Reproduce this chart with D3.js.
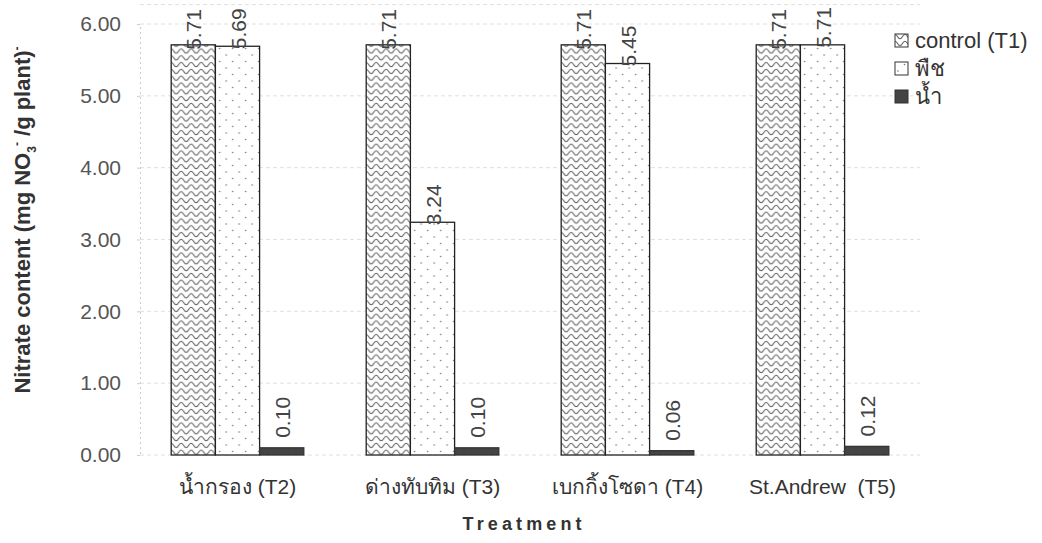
<!DOCTYPE html>
<html>
<head>
<meta charset="utf-8">
<script src="https://cdn.jsdelivr.net/npm/d3@7"></script>
<style>
  html, body { margin: 0; padding: 0; background: #fff; }
  svg { display: block; font-family: "Liberation Sans", Arial, "Noto Sans", sans-serif; }
  text { white-space: pre; }
</style>
</head>
<body>
<svg id="chart" width="1042" height="543"></svg>
<script>
// Nitrate content per treatment (mg NO3- / g plant)
const categories = ["น้ำกรอง (T2)", "ด่างทับทิม (T3)", "เบกกิ้งโซดา (T4)", "St.Andrew  (T5)"];
const seriesNames = ["control (T1)", "พืช", "น้ำ"];
const controlValues = [5.71, 5.71, 5.71, 5.71];
const plantValues = [5.69, 3.24, 5.45, 5.71];
const waterValues = [0.10, 0.10, 0.06, 0.12];
const yTicks = [0, 1, 2, 3, 4, 5, 6];

const seriesValues = [controlValues, plantValues, waterValues];
const rows = categories.map((c, i) => ({
  category: c,
  values: seriesNames.map((s, k) => ({ series: s, key: k, value: seriesValues[k][i] }))
}));

const svg = d3.select("#chart");
const defs = svg.append("defs");

// wavy hatch for the control series
const wave = defs.append("pattern")
  .attr("id", "wave").attr("patternUnits", "userSpaceOnUse")
  .attr("width", 10).attr("height", 6.8);
wave.append("rect").attr("width", 10).attr("height", 6.8).attr("fill", "#fff");
wave.append("path")
  .attr("d", "M0,1.2 Q1.2,1.2 2.5,3.4 Q3.8,5.6 5,5.6 Q6.2,5.6 7.5,3.4 Q8.8,1.2 10,1.2")
  .attr("fill", "none").attr("stroke", "#555").attr("stroke-width", 1);

// sparse dots for the plant series
const dots = defs.append("pattern")
  .attr("id", "dots").attr("patternUnits", "userSpaceOnUse")
  .attr("width", 13).attr("height", 13);
dots.append("rect").attr("width", 13).attr("height", 13).attr("fill", "#fff");
dots.append("circle").attr("cx", 3).attr("cy", 3).attr("r", 0.8).attr("fill", "#777");
dots.append("circle").attr("cx", 9.5).attr("cy", 9.5).attr("r", 0.8).attr("fill", "#777");

const fills = ["url(#wave)", "url(#dots)", "#444"];
// label placement relative to the bar top, per series
const labelShift = [5, 3, -10];

const x0 = d3.scaleBand().domain(categories).range([140, 920]).paddingInner(0.32).paddingOuter(0.16);
const x1 = d3.scaleBand().domain(d3.range(seriesNames.length)).range([0, x0.bandwidth()]);
const y = d3.scaleLinear().domain([0, 6]).range([455, 24]);

// faint dashed gridlines
svg.append("g").selectAll("line").data(yTicks.concat([6.27]))
  .join("line")
  .attr("x1", 140).attr("x2", 920)
  .attr("y1", d => y(d)).attr("y2", d => y(d))
  .attr("stroke", "#c4c4c4").attr("stroke-width", 1)
  .attr("stroke-dasharray", "4,3").attr("opacity", 0.5);

// y axis
const yAxis = svg.append("g").attr("transform", "translate(140,0)")
  .call(d3.axisLeft(y).tickValues(yTicks).tickFormat(d3.format(".2f")).tickSize(3).tickPadding(16));
yAxis.attr("font-family", null).attr("font-size", null);
yAxis.select(".domain").attr("stroke", "#ccc").attr("stroke-dasharray", "2,3");
yAxis.selectAll(".tick line").attr("stroke", "#ccc");
yAxis.selectAll("text").attr("font-size", 21).attr("fill", "#555");

// x axis labels
const xAxis = svg.append("g").attr("transform", "translate(0,455)")
  .call(d3.axisBottom(x0).tickSize(0).tickPadding(24));
xAxis.attr("font-family", null).attr("font-size", null);
xAxis.select(".domain").remove();
xAxis.selectAll("text").attr("font-size", 21).attr("fill", "#333");

// bars
const groups = svg.append("g").selectAll("g").data(rows).join("g")
  .attr("transform", d => `translate(${x0(d.category)},0)`);

groups.selectAll("rect").data(d => d.values).join("rect")
  .attr("x", d => x1(d.key))
  .attr("y", d => y(d.value))
  .attr("width", x1.bandwidth())
  .attr("height", d => y(0) - y(d.value))
  .attr("fill", d => fills[d.key])
  .attr("stroke", d => d.key === 2 ? "#333" : "#222")
  .attr("stroke-width", 1.3);

// rotated value labels
groups.selectAll("text.val").data(d => d.values).join("text")
  .attr("class", "val")
  .attr("transform", d => `translate(${x1(d.key) + x1.bandwidth() / 2 + 8},${y(d.value) + labelShift[d.key]}) rotate(-90)`)
  .attr("font-size", 21).attr("fill", "#444")
  .text(d => d.value.toFixed(2));

// y axis title
const yTitle = svg.append("text")
  .attr("transform", "translate(30,220) rotate(-90)")
  .attr("text-anchor", "middle").attr("font-size", 22).attr("font-weight", "bold").attr("fill", "#333");
yTitle.append("tspan").text("Nitrate content (mg NO");
yTitle.append("tspan").attr("font-size", 12).attr("dy", 6).text("3");
yTitle.append("tspan").attr("font-size", 12).attr("dy", -15).text("-");
yTitle.append("tspan").attr("dy", 9).text(" /g plant)");
yTitle.append("tspan").attr("font-size", 12).attr("dy", -9).text("-");

// x axis title
svg.append("text")
  .attr("x", 522).attr("y", 530)
  .attr("text-anchor", "middle").attr("font-size", 18).attr("font-weight", "bold")
  .attr("textLength", 119).attr("lengthAdjust", "spacing").attr("fill", "#333")
  .text("Treatment");

// legend
const legend = svg.append("g").attr("transform", "translate(895,0)");
const items = legend.selectAll("g").data(seriesNames).join("g")
  .attr("transform", (d, i) => `translate(0,${40 + i * 28})`);
items.append("rect")
  .attr("x", 0).attr("y", -6).attr("width", 13).attr("height", 13)
  .attr("fill", (d, i) => fills[i]).attr("stroke", "#333").attr("stroke-width", 1);
items.append("text")
  .attr("x", 20).attr("y", 8).attr("font-size", 22).attr("fill", "#333")
  .text(d => d);
</script>
</body>
</html>
